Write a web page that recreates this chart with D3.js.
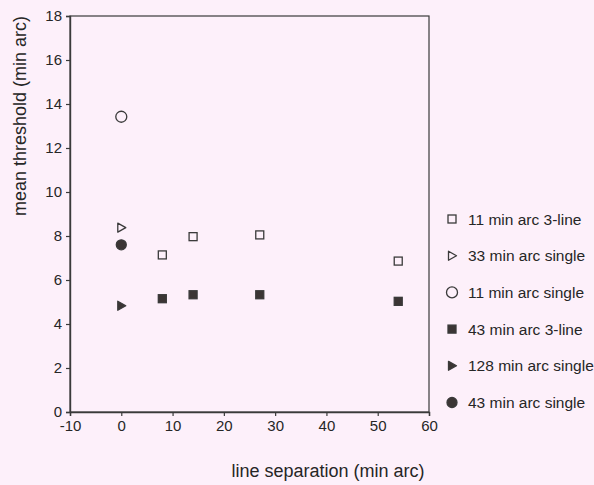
<!DOCTYPE html>
<html>
<head>
<meta charset="utf-8">
<script src="https://cdn.jsdelivr.net/npm/d3@7"></script>
<style>
  html, body { margin: 0; padding: 0; background: #fdf0fa; }
  svg { display: block; }
  text { font-family: "Liberation Sans", Arial, sans-serif; fill: #262626; }
</style>
</head>
<body>
<svg id="chart" width="594" height="485"></svg>
<script>
// Series names (legend order) and their marker styles
const seriesNames = [
  "11 min arc 3-line",
  "33 min arc single",
  "11 min arc single",
  "43 min arc 3-line",
  "128 min arc single",
  "43 min arc single"
];
const seriesShapes = ["square", "triangle", "circle", "square", "triangle", "circle"];
const seriesFilled = [false, false, false, true, true, true];

// Line separation (min arc) and mean threshold (min arc) for each series
const sepThreeLine = [8, 14, 27, 54];
const thr11ThreeLine = [7.14, 7.97, 8.05, 6.86];
const thr43ThreeLine = [5.15, 5.33, 5.33, 5.03];
const sepSingle = [0];
const thr33Single = [8.38];
const thr11Single = [13.42];
const thr128Single = [4.83];
const thr43Single = [7.6];

const seriesX = [sepThreeLine, sepSingle, sepSingle, sepThreeLine, sepSingle, sepSingle];
const seriesY = [thr11ThreeLine, thr33Single, thr11Single, thr43ThreeLine, thr128Single, thr43Single];

const xTicks = [-10, 0, 10, 20, 30, 40, 50, 60];
const yTicks = [0, 2, 4, 6, 8, 10, 12, 14, 16, 18];

const svg = d3.select("#chart");
const ink = "#3a3a3a";
const fontFamily = "'Liberation Sans', Arial, sans-serif";

const x = d3.scaleLinear().domain([-10, 60]).range([70, 429]);
const y = d3.scaleLinear().domain([0, 18]).range([412, 16]);

// frame (top and right edges)
svg.append("rect")
  .attr("x", x(-10)).attr("y", y(18))
  .attr("width", x(60) - x(-10)).attr("height", y(0) - y(18))
  .attr("fill", "none").attr("stroke", ink).attr("stroke-width", 1.2);

// plain hyphen for negative tick labels
const tickFmt = d => String(d);

const xAxis = svg.append("g")
  .attr("transform", `translate(0,${y(0)})`)
  .call(d3.axisBottom(x).tickValues(xTicks).tickSize(4).tickPadding(4).tickFormat(tickFmt));
const yAxis = svg.append("g")
  .attr("transform", `translate(${x(-10)},0)`)
  .call(d3.axisLeft(y).tickValues(yTicks).tickSize(4).tickPadding(4).tickFormat(tickFmt));

[xAxis, yAxis].forEach(g => {
  g.select(".domain").attr("stroke", ink).attr("stroke-width", 1.4);
  g.selectAll(".tick line").attr("stroke", ink).attr("stroke-width", 1.2);
  g.selectAll(".tick text").attr("font-size", 15)
    .style("font-family", fontFamily).attr("fill", "#262626");
});

// axis titles
svg.append("text")
  .attr("x", 328).attr("y", 477)
  .attr("text-anchor", "middle").attr("font-size", 18)
  .text("line separation (min arc)");
svg.append("text")
  .attr("transform", `translate(26,116) rotate(-90)`)
  .attr("text-anchor", "middle").attr("font-size", 18)
  .text("mean threshold (min arc)");

// marker drawing
function drawMarker(g, shape, filled, cx, cy) {
  const fill = filled ? "#3b3534" : "none";
  const stroke = ink;
  if (shape === "square") {
    const s = 8;
    g.append("rect").attr("x", cx - s / 2).attr("y", cy - s / 2)
      .attr("width", s).attr("height", s)
      .attr("fill", fill).attr("stroke", stroke).attr("stroke-width", 1.3);
  } else if (shape === "circle") {
    g.append("circle").attr("cx", cx).attr("cy", cy)
      .attr("r", filled ? 5 : 5.5)
      .attr("fill", fill).attr("stroke", stroke).attr("stroke-width", 1.3);
  } else {
    g.append("path")
      .attr("d", `M${cx - 3.5},${cy - 4.5}L${cx + 4.5},${cy}L${cx - 3.5},${cy + 4.5}Z`)
      .attr("fill", fill).attr("stroke", stroke).attr("stroke-width", 1.3)
      .attr("stroke-linejoin", "round");
  }
}

const marks = svg.append("g");
seriesNames.forEach((name, i) => {
  seriesX[i].forEach((sx, j) => {
    drawMarker(marks, seriesShapes[i], seriesFilled[i], x(sx), y(seriesY[i][j]));
  });
});

// legend
const legend = svg.append("g");
seriesNames.forEach((name, i) => {
  const ly = 219 + i * 36.7;
  drawMarker(legend, seriesShapes[i], seriesFilled[i], 452, ly);
  legend.append("text")
    .attr("x", 468).attr("y", ly + 5.5)
    .attr("font-size", 15.5)
    .text(name);
});
</script>
</body>
</html>
